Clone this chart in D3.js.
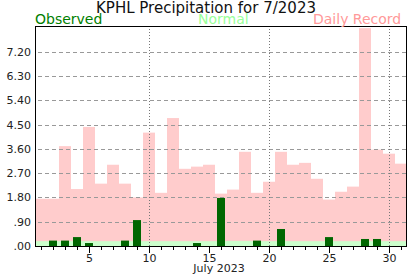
<!DOCTYPE html>
<html>
<head>
<meta charset="utf-8">
<script src="https://cdn.jsdelivr.net/npm/d3@7"></script>
<style>
  body { margin: 0; background: #fff; }
  svg { display: block; font-family: "DejaVu Sans", sans-serif; }
</style>
</head>
<body>
<div id="chart"></div>
<script>
const days = d3.range(1, 32);
const observed = [0, 0.20, 0.20, 0.33, 0.11, 0, 0, 0.20, 0.96, 0, 0, 0, 0, 0.11, 0, 1.78,
                  0, 0, 0.20, 0, 0.63, 0, 0, 0, 0.33, 0, 0, 0.26, 0.26, 0, 0];
const normal = [0.18, 0.18, 0.18, 0.18, 0.18, 0.18, 0.18, 0.18, 0.18, 0.18, 0.18, 0.18, 0.18, 0.18, 0.18, 0.18,
                0.19, 0.19, 0.18, 0.18, 0.18, 0.18, 0.18, 0.18, 0.18, 0.18, 0.18, 0.18, 0.18, 0.18, 0.18];
const record = [1.75, 1.75, 3.70, 2.11, 4.41, 2.31, 3.01, 2.31, 1.80, 4.20, 1.97, 4.74, 2.86, 2.94, 3.01, 1.94,
                2.09, 3.49, 1.97, 2.38, 3.49, 3.01, 3.08, 2.49, 1.72, 2.01, 2.20, 8.07, 3.57, 3.42, 3.05];
const yTicks = [0, 0.9, 1.8, 2.7, 3.6, 4.5, 5.4, 6.3, 7.2];
const xLabels = [5, 10, 15, 20, 25, 30];
const xGrid = [10, 20, 30];

const width = 417, height = 276;
const margin = {top: 26, right: 10, bottom: 30, left: 35};

const svg = d3.select("#chart").append("svg")
    .attr("width", width)
    .attr("height", height);

const x = d3.scaleLinear().domain([0.5, 31.5]).range([margin.left, width - margin.right]);
const y = d3.scaleLinear().domain([0, 8.15]).range([height - margin.bottom, margin.top]);
const dayW = x(2) - x(1);

const rows = days.map((d, i) => ({day: d, obs: observed[i], norm: normal[i], rec: record[i]}));

// record bars
svg.append("g").selectAll("rect").data(rows).join("rect")
    .attr("x", d => x(d.day - 0.5))
    .attr("width", dayW)
    .attr("y", d => y(d.rec))
    .attr("height", d => y(0) - y(d.rec))
    .attr("fill", "#ffcccc");

// normal band
svg.append("g").selectAll("rect").data(rows).join("rect")
    .attr("x", d => x(d.day - 0.5))
    .attr("width", dayW)
    .attr("y", d => y(d.norm))
    .attr("height", d => y(0) - y(d.norm))
    .attr("fill", "#ccffcc");

// grid
svg.append("g").selectAll("line").data(yTicks.slice(1)).join("line")
    .attr("x1", margin.left + 3)
    .attr("x2", width - margin.right)
    .attr("y1", d => Math.round(y(d)) + 0.5)
    .attr("y2", d => Math.round(y(d)) + 0.5)
    .attr("stroke", "#999")
    .attr("stroke-dasharray", "4,3");

svg.append("g").selectAll("line").data(xGrid).join("line")
    .attr("x1", d => Math.round(x(d)) + 0.5)
    .attr("x2", d => Math.round(x(d)) + 0.5)
    .attr("y1", margin.top)
    .attr("y2", y(0))
    .attr("stroke", "#777")
    .attr("stroke-dasharray", "1,2");

// observed bars
svg.append("g").selectAll("rect").data(rows.filter(d => d.obs > 0)).join("rect")
    .attr("x", d => x(d.day) - dayW / 3)
    .attr("width", dayW * 2 / 3)
    .attr("y", d => y(d.obs))
    .attr("height", d => y(0) - y(d.obs))
    .attr("fill", "#006600");

// axes
const fmt = d => d3.format(".2f")(d).replace(/^0/, "");
const gY = svg.append("g")
    .attr("transform", `translate(${margin.left},0)`)
    .call(d3.axisLeft(y).tickValues(yTicks).tickSize(0).tickPadding(4).tickFormat(fmt));
gY.select(".domain").remove();

const gXminor = svg.append("g")
    .attr("transform", `translate(0,${y(0)})`)
    .call(d3.axisBottom(x).tickValues(days).tickSize(4).tickFormat(""));
gXminor.select(".domain").remove();

const gX = svg.append("g")
    .attr("transform", `translate(0,${y(0)})`)
    .call(d3.axisBottom(x).tickValues(xLabels).tickSize(7).tickPadding(1).tickFormat(d3.format("d")));
gX.select(".domain").remove();

svg.selectAll(".tick text")
    .attr("font-family", "DejaVu Sans, sans-serif")
    .attr("font-size", 11)
    .attr("fill", "#222");

svg.append("text")
    .attr("x", 219).attr("y", 272)
    .attr("text-anchor", "middle")
    .attr("font-size", 11)
    .attr("fill", "#222")
    .text("July 2023");

// frame
svg.append("rect")
    .attr("x", margin.left + 0.5)
    .attr("y", margin.top + 0.5)
    .attr("width", width - margin.right - margin.left - 1)
    .attr("height", y(0) - margin.top)
    .attr("fill", "none")
    .attr("stroke", "#000");

// title and legend
svg.append("text")
    .attr("x", 206).attr("y", 13)
    .attr("text-anchor", "middle")
    .attr("font-size", 15)
    .attr("fill", "#111")
    .text("KPHL Precipitation for 7/2023");

const legend = [
    {label: "Observed", color: "#008000", x: 35},
    {label: "Normal", color: "#99ff99", x: 198},
    {label: "Daily Record", color: "#ff9999", x: 313}
];
svg.append("g").selectAll("text").data(legend).join("text")
    .attr("x", d => d.x).attr("y", 24)
    .attr("font-size", 14)
    .attr("fill", d => d.color)
    .text(d => d.label);
</script>
</body>
</html>
